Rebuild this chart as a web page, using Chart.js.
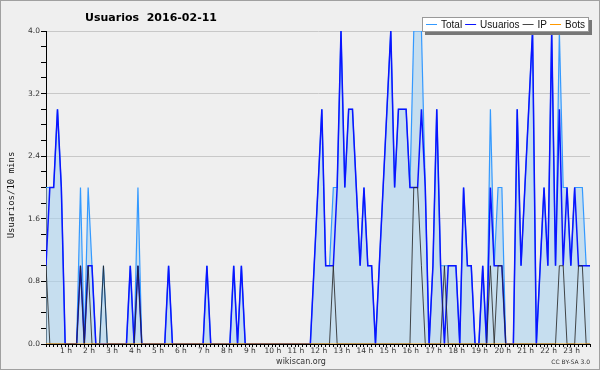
<!DOCTYPE html>
<html>
<head>
<meta charset="utf-8">
<script src="https://cdn.jsdelivr.net/npm/chart.js@4.4.1/dist/chart.umd.min.js"></script>
<style>
  html, body { margin: 0; padding: 0; background: #efefef; }
  canvas { display: block; }
</style>
</head>
<body>
<canvas id="chart" width="600" height="370"></canvas>
<script>
// tramos de 10 minutos del día (0 = 00:00 ... 143 = 23:50)
const SLOTS = Array.from({ length: 144 }, (_, i) => i);

// etiquetas de las horas, una cada 6 tramos
const HOUR_LABELS = ['1 h', '2 h', '3 h', '4 h', '5 h', '6 h', '7 h', '8 h', '9 h', '10 h', '11 h', '12 h',
  '13 h', '14 h', '15 h', '16 h', '17 h', '18 h', '19 h', '20 h', '21 h', '22 h', '23 h'];

// valores, 12 tramos (2 horas) por línea
const TOTAL = [
  2, 2, 2, 3, 2, 0, 0, 0, 0, 2, 0, 2,
  1, 0, 0, 1, 0, 0, 0, 0, 0, 0, 1, 0,
  2, 0, 0, 0, 0, 0, 0, 0, 1, 0, 0, 0,
  0, 0, 0, 0, 0, 0, 1, 0, 0, 0, 0, 0,
  0, 1, 0, 1, 0, 0, 0, 0, 0, 0, 0, 0,
  0, 0, 0, 0, 0, 0, 0, 0, 0, 0, 1, 2,
  3, 1, 1, 2, 2, 4, 2, 3, 3, 2, 1, 2,
  1, 1, 0, 1, 2, 3, 4, 2, 3, 3, 3, 2,
  4, 4, 4, 2, 0, 1, 3, 1, 1, 1, 1, 1,
  0, 2, 1, 1, 0, 0, 1, 0, 3, 1, 2, 2,
  0, 0, 0, 3, 1, 2, 3, 4, 0, 1, 2, 1,
  4, 1, 4, 2, 2, 1, 2, 2, 2, 1, 1, 1
];

const USUARIOS = [
  1, 2, 2, 3, 2, 0, 0, 0, 0, 1, 0, 1,
  1, 0, 0, 0, 0, 0, 0, 0, 0, 0, 1, 0,
  1, 0, 0, 0, 0, 0, 0, 0, 1, 0, 0, 0,
  0, 0, 0, 0, 0, 0, 1, 0, 0, 0, 0, 0,
  0, 1, 0, 1, 0, 0, 0, 0, 0, 0, 0, 0,
  0, 0, 0, 0, 0, 0, 0, 0, 0, 0, 1, 2,
  3, 1, 1, 1, 2, 4, 2, 3, 3, 2, 1, 2,
  1, 1, 0, 1, 2, 3, 4, 2, 3, 3, 3, 2,
  2, 2, 3, 2, 0, 1, 3, 1, 0, 1, 1, 1,
  0, 2, 1, 1, 0, 0, 1, 0, 2, 1, 1, 1,
  0, 0, 0, 3, 1, 2, 3, 4, 0, 1, 2, 1,
  4, 1, 3, 1, 2, 1, 2, 1, 1, 1, 1, 1
];

const IP = [
  1, 0, 0, 0, 0, 0, 0, 0, 0, 1, 0, 1,
  0, 0, 0, 1, 0, 0, 0, 0, 0, 0, 0, 0,
  1, 0, 0, 0, 0, 0, 0, 0, 0, 0, 0, 0,
  0, 0, 0, 0, 0, 0, 0, 0, 0, 0, 0, 0,
  0, 0, 0, 0, 0, 0, 0, 0, 0, 0, 0, 0,
  0, 0, 0, 0, 0, 0, 0, 0, 0, 0, 0, 0,
  0, 0, 0, 1, 0, 0, 0, 0, 0, 0, 0, 0,
  0, 0, 0, 0, 0, 0, 0, 0, 0, 0, 0, 0,
  2, 2, 1, 0, 0, 0, 0, 0, 1, 0, 0, 0,
  0, 0, 0, 0, 0, 0, 0, 0, 1, 0, 1, 1,
  0, 0, 0, 0, 0, 0, 0, 0, 0, 0, 0, 0,
  0, 0, 1, 1, 0, 0, 0, 1, 1, 0, 0, 0
];

const BOTS = [
  0, 0, 0, 0, 0, 0, 0, 0, 0, 0, 0, 0,
  0, 0, 0, 0, 0, 0, 0, 0, 0, 0, 0, 0,
  0, 0, 0, 0, 0, 0, 0, 0, 0, 0, 0, 0,
  0, 0, 0, 0, 0, 0, 0, 0, 0, 0, 0, 0,
  0, 0, 0, 0, 0, 0, 0, 0, 0, 0, 0, 0,
  0, 0, 0, 0, 0, 0, 0, 0, 0, 0, 0, 0,
  0, 0, 0, 0, 0, 0, 0, 0, 0, 0, 0, 0,
  0, 0, 0, 0, 0, 0, 0, 0, 0, 0, 0, 0,
  0, 0, 0, 0, 0, 0, 0, 0, 0, 0, 0, 0,
  0, 0, 0, 0, 0, 0, 0, 0, 0, 0, 0, 0,
  0, 0, 0, 0, 0, 0, 0, 0, 0, 0, 0, 0,
  0, 0, 0, 0, 0, 0, 0, 0, 0, 0, 0, 0
];

const TITLE = 'Usuarios  2016-02-11';
const Y_TITLE = 'Usuarios/10 mins';

// fondo, títulos, leyenda y pie (no son marcas de datos)
const decorPlugin = {
  id: 'decor',
  beforeDraw(chart) {
    const ctx = chart.ctx;
    ctx.save();
    ctx.fillStyle = '#efefef';
    ctx.fillRect(0, 0, chart.width, chart.height);
    ctx.restore();
  },
  afterDraw(chart) {
    const ctx = chart.ctx;
    ctx.save();

    // título
    ctx.fillStyle = '#000';
    ctx.font = 'bold 11px "DejaVu Sans"';
    ctx.textAlign = 'center';
    ctx.textBaseline = 'alphabetic';
    ctx.fillText(TITLE, 151, 21);

    // título del eje y
    ctx.save();
    ctx.translate(12, 195);
    ctx.rotate(-Math.PI / 2);
    ctx.font = '9px "DejaVu Sans Mono"';
    ctx.fillStyle = '#111';
    ctx.textBaseline = 'middle';
    ctx.fillText(Y_TITLE, 0, 0);
    ctx.restore();

    // pie
    ctx.font = '8px "DejaVu Sans"';
    ctx.fillStyle = '#333';
    ctx.textAlign = 'center';
    ctx.fillText('wikiscan.org', 301, 364);
    ctx.font = '6px "DejaVu Sans"';
    ctx.textAlign = 'right';
    ctx.fillText('CC BY-SA 3.0', 590, 364);

    // leyenda
    const bx = 422, by = 17, bw = 167, bh = 15;
    ctx.fillStyle = '#777';
    ctx.fillRect(bx + 3, by + 3, bw, bh);
    ctx.fillStyle = '#fff';
    ctx.fillRect(bx, by, bw, bh);
    ctx.strokeStyle = '#999';
    ctx.lineWidth = 1;
    ctx.strokeRect(bx + 0.5, by + 0.5, bw - 1, bh - 1);

    ctx.font = '10px "Liberation Sans"';
    ctx.textAlign = 'left';
    let x = bx + 4;
    chart.data.datasets.forEach(ds => {
      ctx.strokeStyle = ds.borderColor;
      ctx.lineWidth = 1;
      ctx.beginPath();
      ctx.moveTo(x, by + 7.5);
      ctx.lineTo(x + 11, by + 7.5);
      ctx.stroke();
      x += 15;
      ctx.fillStyle = '#111';
      ctx.fillText(ds.label, x, by + 11);
      x += ctx.measureText(ds.label).width + 3;
    });

    // borde exterior
    ctx.strokeStyle = '#a0a0a0';
    ctx.strokeRect(0.5, 0.5, chart.width - 1, chart.height - 1);
    ctx.restore();
  }
};

new Chart(document.getElementById('chart'), {
  type: 'line',
  data: {
    labels: SLOTS,
    datasets: [
      { label: 'Total', data: TOTAL, borderColor: '#3399ff', borderWidth: 1.2,
        backgroundColor: 'rgba(170,210,239,0.6)', fill: 'origin', order: 4 },
      { label: 'Usuarios', data: USUARIOS, borderColor: '#0a14ff', borderWidth: 1.5,
        fill: false, order: 2 },
      { label: 'IP', data: IP, borderColor: 'rgba(40,40,40,0.85)', borderWidth: 1,
        fill: false, order: 1 },
      { label: 'Bots', data: BOTS, borderColor: '#ff9900', borderWidth: 1,
        fill: false, order: 0 }
    ]
  },
  options: {
    responsive: false,
    animation: false,
    devicePixelRatio: 1,
    layout: { padding: { top: 31, right: 10, bottom: 12, left: 0 } },
    elements: { point: { radius: 0 }, line: { tension: 0 } },
    plugins: { legend: { display: false }, tooltip: { enabled: false }, title: { display: false } },
    scales: {
      x: {
        type: 'linear',
        min: 0,
        max: 142,
        z: 1,
        afterFit(scale) { scale.height = 14; },
        border: { display: true, color: '#000', width: 1 },
        grid: { drawOnChartArea: false, drawTicks: true, tickLength: 3, tickColor: '#000' },
        ticks: {
          stepSize: 1,
          maxTicksLimit: 200,
          autoSkip: false,
          maxRotation: 0,
          padding: 0,
          labelOffset: -3,
          color: '#333',
          font: { family: 'DejaVu Sans', size: 7.5 },
          callback(value) {
            if (value > 0 && value % 6 === 0) return HOUR_LABELS[value / 6 - 1];
            return '';
          }
        }
      },
      y: {
        min: 0,
        max: 4,
        afterFit(scale) { scale.width = 46; },
        border: { display: true, color: '#000', width: 1 },
        grid: {
          tickLength: 5,
          tickColor: '#000',
          color(c) { return Math.round(c.tick.value * 10) % 8 === 0 ? '#c8c8c8' : 'rgba(0,0,0,0)'; }
        },
        ticks: {
          stepSize: 0.2,
          maxTicksLimit: 30,
          autoSkip: false,
          padding: 1,
          color: '#333',
          font: { family: 'DejaVu Sans', size: 7.5 },
          callback(value) {
            return Math.round(value * 10) % 8 === 0 ? value.toFixed(1) : '';
          }
        }
      }
    }
  },
  plugins: [decorPlugin]
});
</script>
</body>
</html>
